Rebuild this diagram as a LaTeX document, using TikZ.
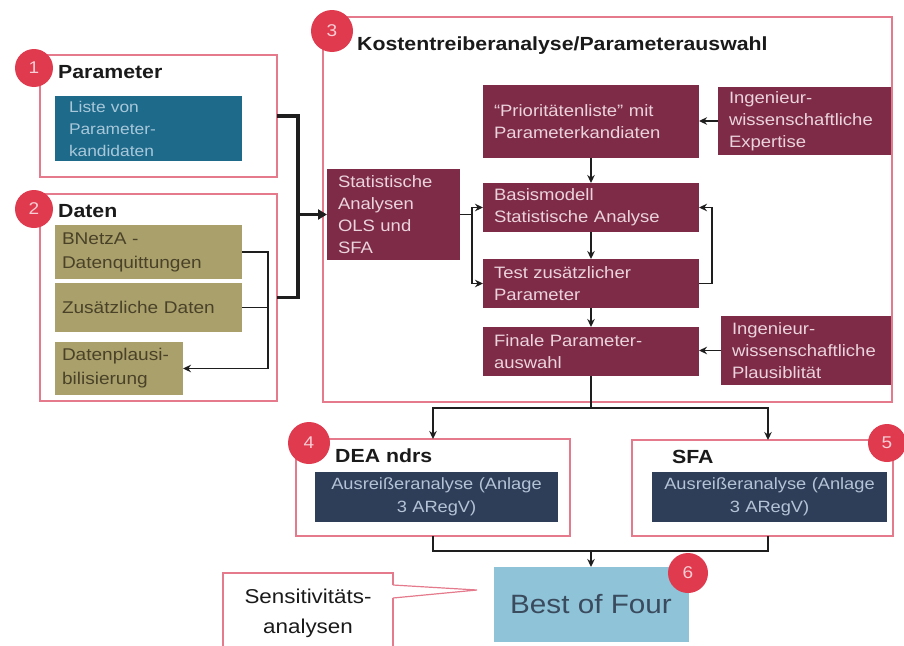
\documentclass[tikz,border=0pt]{standalone}
\usepackage{fontspec}
\setmainfont{Liberation Sans}[FakeStretch=1.12]
\usetikzlibrary{arrows.meta,calc}
\definecolor{framec}{HTML}{E47A8B}
\definecolor{tealc}{HTML}{1E6A8A}
\definecolor{tealtext}{HTML}{A8C8DA}
\definecolor{olivec}{HTML}{AAA06C}
\definecolor{olivetext}{HTML}{4A4228}
\definecolor{maroonc}{HTML}{7E2B47}
\definecolor{maroontext}{HTML}{EAD3DC}
\definecolor{navyc}{HTML}{2E3E58}
\definecolor{navytext}{HTML}{B5C3D6}
\definecolor{bestc}{HTML}{8EC3D8}
\definecolor{besttext}{HTML}{3B4B5E}
\definecolor{circc}{HTML}{E03A4E}
\definecolor{circtext}{HTML}{F8CDD4}
\definecolor{linec}{HTML}{1E1E1E}
\definecolor{titlec}{HTML}{1A1A1A}
\newcommand{\myfs}[2]{\fontsize{#1pt}{#2pt}\selectfont}
\begin{document}
\begin{tikzpicture}[x=1pt,y=-1pt,
  frame/.style={draw=framec, line width=1.2pt, anchor=north west, inner sep=0pt, outer sep=0pt},
  boxbase/.style={anchor=north west, inner ysep=0pt, outer sep=0pt, align=left},
  maroon/.style={boxbase, fill=maroonc, text=maroontext, inner xsep=11pt, font=\myfs{16.5}{22}},
  tealb/.style={boxbase, fill=tealc, text=tealtext, inner xsep=14pt, font=\myfs{15.5}{22}},
  olive/.style={boxbase, fill=olivec, text=olivetext, inner xsep=7pt, font=\myfs{17}{24}},
  navy/.style={boxbase, fill=navyc, text=navytext, align=center, inner xsep=4pt, font=\myfs{16.3}{23}},
  num/.style={circle, fill=circc, text=circtext, inner sep=0pt, font=\myfs{17}{17}},
  ttl/.style={anchor=base west, inner sep=0pt, font=\bfseries\myfs{19}{19}, text=titlec},
  conn/.style={draw=linec, line width=1.4pt},
  arr/.style={conn, -{Stealth[length=8pt,width=7.5pt]}},
  brk/.style={draw=linec, line width=3.5pt}
]
\path[use as bounding box, fill=white] (0,0) rectangle (904,645);

% frames
\node[frame, minimum width=237pt, minimum height=122pt] (f1) at (40,55) {};
\node[frame, minimum width=237pt, minimum height=207pt] (f2) at (40,194) {};
\node[frame, minimum width=569pt, minimum height=385pt] (f3) at (323,17) {};
\node[frame, minimum width=274pt, minimum height=97pt] (f4) at (296,439) {};
\node[frame, minimum width=261pt, minimum height=96pt] (f5) at (632,440) {};

% titles
\node[ttl] (t1) at (58,78) {Parameter};
\node[ttl] (t2) at (58,217) {Daten};
\node[ttl] (t3) at (357,50) {Kostentreiberanalyse/Parameterauswahl};
\node[ttl] (t4) at (335,462) {DEA ndrs};
\node[ttl] (t5) at (672,463) {SFA};

% section 1 & 2 boxes
\node[tealb, text width=159pt, minimum height=65pt] (teal) at (55,96) {Liste von\\Parameter-\\kandidaten};
\node[olive, text width=173pt, minimum height=54pt] (bnetza) at (55,225) {BNetzA -\\Datenquittungen};
\node[olive, text width=173pt, minimum height=49pt] (zus) at (55,283) {Zusätzliche Daten};
\node[olive, text width=114pt, minimum height=53pt] (plaus) at (55,342) {Datenplausi-\\bilisierung};

% section 3 boxes
\node[maroon, text width=111pt, minimum height=91pt] (stat) at (327,169) {Statistische\\Analysen\\OLS und\\SFA};
\node[maroon, text width=194pt, minimum height=73pt] (prio) at (483,85) {“Prioritätenliste” mit\\Parameterkandiaten};
\node[maroon, text width=151pt, minimum height=68pt] (exp) at (718,87) {Ingenieur-\\wissenschaftliche\\Expertise};
\node[maroon, text width=194pt, minimum height=49pt] (basis) at (483,183) {Basismodell\\Statistische Analyse};
\node[maroon, text width=194pt, minimum height=49pt] (test) at (483,259) {Test zusätzlicher\\Parameter};
\node[maroon, text width=194pt, minimum height=49pt] (finale) at (483,327) {Finale Parameter-\\auswahl};
\node[maroon, text width=148pt, minimum height=69pt] (ip) at (721,316) {Ingenieur-\\wissenschaftliche\\Plausiblität};

% section 4 & 5 boxes
\node[navy, text width=235pt, minimum height=50pt] (dea) at (315,472) {Ausreißeranalyse (Anlage\\3 ARegV)};
\node[navy, text width=227pt, minimum height=50pt] (sfa) at (652,472) {Ausreißeranalyse (Anlage\\3 ARegV)};

% best of four and sensitivity callout
\node[boxbase, fill=bestc, text=besttext, align=center, minimum width=195pt, minimum height=75pt, inner xsep=0pt, font=\myfs{26.5}{30}] (best) at (493.5,567) {Best of Four};
\node[boxbase, draw=framec, line width=1.2pt, fill=white, text=titlec, align=center, minimum width=170pt, minimum height=80pt, inner xsep=0pt, font=\myfs{20}{30}] (sens) at (223,573) {Sensitivitäts-\\analysen};
\coordinate (ptr) at (477,590);
\fill[white] ([yshift=-12pt,xshift=-1.5pt]sens.north east) -- (ptr) -- ([yshift=-25pt,xshift=-1.5pt]sens.north east) -- cycle;
\draw[draw=framec, line width=1.2pt] ([yshift=-12pt]sens.north east) -- (ptr) -- ([yshift=-25pt]sens.north east);

% number circles
\node[num, minimum size=38pt] (n1) at (34,68) {1};
\node[num, minimum size=38pt] (n2) at (34,209) {2};
\node[num, minimum size=42pt] (n3) at (332,31) {3};
\node[num, minimum size=42pt] (n4) at (309,443) {4};
\node[num, minimum size=38pt] (n5) at (887,443) {5};
\node[num, minimum size=40pt] (n6) at (688,573) {6};

% junction coordinates
\coordinate (jx) at (298,214.5);
\coordinate (dj) at (268,368.5);
\coordinate (sj) at (472,214.5);
\coordinate (tj) at (712,283.5);
\coordinate (fj) at (590,408);
\coordinate (bj) at (591,551);

% connectors
\draw[brk] (f1.east) -| (jx) |- (f2.east);
\draw[brk, -{Triangle[length=9pt,width=10pt]}] (jx) -- (stat.west);
\draw[arr] (bnetza.east) -| (dj) -- (plaus.east);
\draw[conn] (zus.east) -- (zus.east -| dj);
\draw[arr] (exp.west) -- (exp.west -| prio.east);
\draw[arr] (prio.south) -- (basis.north);
\draw[conn] (stat.east) -- (sj);
\draw[arr] (sj) |- (basis.west);
\draw[arr] (sj) |- (test.west);
\draw[arr] (basis.south) -- (test.north);
\draw[arr] (test.east) -- (tj) |- (basis.east);
\draw[arr] (test.south) -- (finale.north);
\draw[arr] (ip.west) -- (ip.west -| finale.east);
\draw[conn] (finale.south) -- (finale.south |- fj) -- (fj);
\draw[arr] (fj) -| (f4.north);
\draw[arr] (fj) -| ([xshift=5.5pt]f5.north);
\draw[conn] (f4.south) |- (bj);
\draw[conn] (bj) -| ([xshift=5.5pt]f5.south);
\draw[arr] (bj) -- (best.north);
\end{tikzpicture}
\end{document}
